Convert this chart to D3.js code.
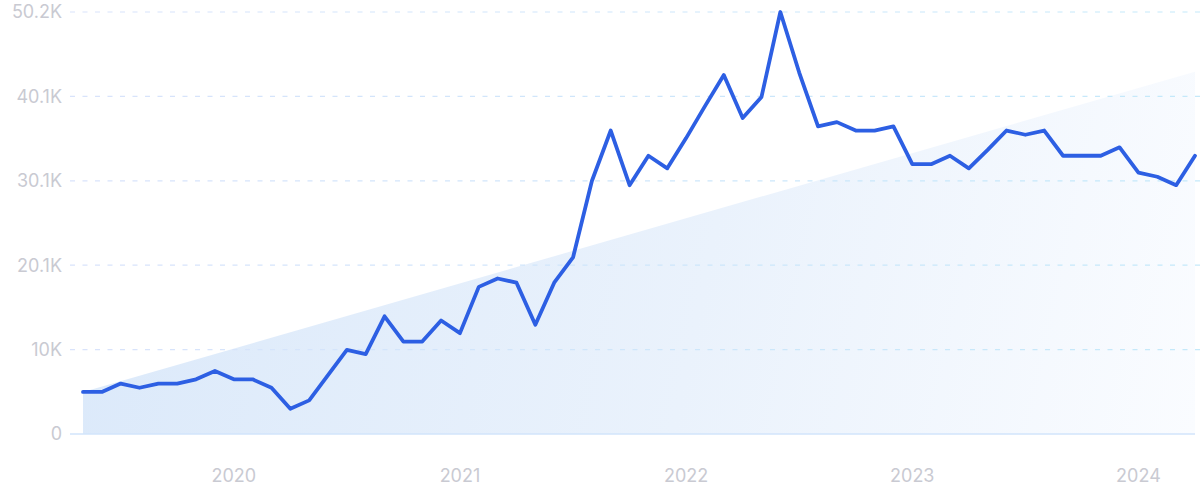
<!DOCTYPE html>
<html>
<head>
<meta charset="utf-8">
<script src="https://cdn.jsdelivr.net/npm/d3@7"></script>
<style>
  html, body { margin: 0; padding: 0; background: #ffffff; }
  svg { display: block; }
  text { font-family: Inter, "Noto Sans", sans-serif; }
</style>
</head>
<body>
<svg id="chart" width="1200" height="499"></svg>
<script>
// ---- data ----
const months = [
  "2019-05","2019-06","2019-07","2019-08","2019-09","2019-10","2019-11","2019-12",
  "2020-01","2020-02","2020-03","2020-04","2020-05","2020-06","2020-07","2020-08","2020-09","2020-10","2020-11","2020-12",
  "2021-01","2021-02","2021-03","2021-04","2021-05","2021-06","2021-07","2021-08","2021-09","2021-10","2021-11","2021-12",
  "2022-01","2022-02","2022-03","2022-04","2022-05","2022-06","2022-07","2022-08","2022-09","2022-10","2022-11","2022-12",
  "2023-01","2023-02","2023-03","2023-04","2023-05","2023-06","2023-07","2023-08","2023-09","2023-10","2023-11","2023-12",
  "2024-01","2024-02","2024-03","2024-04"
];
// search volume, thousands
const volume = [
  5.0, 5.0, 6.0, 5.5, 6.0, 6.0, 6.5, 7.5,
  6.5, 6.5, 5.5, 3.0, 4.0, 7.0, 10.0, 9.5, 14.0, 11.0, 11.0, 13.5,
  12.0, 17.5, 18.5, 18.0, 13.0, 18.0, 21.0, 30.1, 36.1, 29.6, 33.1, 31.6,
  35.2, 39.0, 42.7, 37.6, 40.1, 50.2, 43.0, 36.6, 37.1, 36.1, 36.1, 36.6,
  32.1, 32.1, 33.1, 31.6, 33.8, 36.1, 35.6, 36.1, 33.1, 33.1, 33.1, 34.1,
  31.1, 30.6, 29.6, 33.1
];
// trend line (first month, last month), thousands
const trendMonths = ["2019-05", "2024-04"];
const trendValues = [5.0, 43.1];
// axis ticks
const yTickValues = [0, 10.04, 20.08, 30.12, 40.16, 50.2];
const yTickLabels = ["0", "10K", "20.1K", "30.1K", "40.1K", "50.2K"];
const xTickMonths = ["2020-01", "2021-01", "2022-01", "2023-01", "2024-01"];
const xTickLabels = ["2020", "2021", "2022", "2023", "2024"];

// ---- layout ----
const svg = d3.select("#chart");
const plotLeft = 83, plotRight = 1195, plotTop = 12, plotBottom = 434;

const x = d3.scalePoint().domain(months).range([plotLeft, plotRight]);
const y = d3.scaleLinear().domain([0, 50.2]).range([plotBottom, plotTop]);

const defs = svg.append("defs");
const fillGrad = defs.append("linearGradient")
  .attr("id", "fillGrad")
  .attr("gradientUnits", "userSpaceOnUse")
  .attr("x1", plotLeft).attr("y1", 200).attr("x2", plotRight).attr("y2", 434);
fillGrad.append("stop").attr("offset", "0%").attr("stop-color", "#dbe9fa");
fillGrad.append("stop").attr("offset", "55%").attr("stop-color", "#eaf2fc");
fillGrad.append("stop").attr("offset", "100%").attr("stop-color", "#fafcff");

const gridGrad = defs.append("linearGradient")
  .attr("id", "gridGrad")
  .attr("gradientUnits", "userSpaceOnUse")
  .attr("x1", 70).attr("y1", 0).attr("x2", 1200).attr("y2", 0);
gridGrad.append("stop").attr("offset", "0%").attr("stop-color", "#d9e3fb");
gridGrad.append("stop").attr("offset", "100%").attr("stop-color", "#c4e9fa");

// trend area
const trendData = trendMonths.map((m, i) => ({ m, v: trendValues[i] }));
const area = d3.area()
  .x(d => x(d.m))
  .y0(y(0))
  .y1(d => y(d.v));
svg.append("path")
  .datum(trendData)
  .attr("d", area)
  .attr("fill", "url(#fillGrad)");

// gridlines
svg.append("g")
  .selectAll("line")
  .data(yTickValues.slice(1))
  .join("line")
  .attr("x1", 70).attr("x2", 1200)
  .attr("y1", d => y(d)).attr("y2", d => y(d) + 0.01)
  .attr("stroke", "url(#gridGrad)")
  .attr("stroke-width", 1.2)
  .attr("stroke-dasharray", "5,7.5");

// baseline
svg.append("line")
  .attr("x1", 70).attr("x2", plotRight)
  .attr("y1", y(0)).attr("y2", y(0))
  .attr("stroke", "#d2e4fb")
  .attr("stroke-width", 1.5);

// y labels
svg.append("g")
  .selectAll("text")
  .data(yTickValues)
  .join("text")
  .attr("x", 62)
  .attr("y", d => y(d))
  .attr("dy", "0.36em")
  .attr("text-anchor", "end")
  .attr("font-size", 18)
  .attr("fill", "#c9cad2")
  .text((d, i) => yTickLabels[i]);

// x labels
svg.append("g")
  .selectAll("text")
  .data(xTickMonths)
  .join("text")
  .attr("x", d => x(d))
  .attr("y", 476)
  .attr("dy", "0.36em")
  .attr("text-anchor", "middle")
  .attr("font-size", 18)
  .attr("fill", "#c9cad2")
  .text((d, i) => xTickLabels[i]);

// line
const line = d3.line()
  .x((d, i) => x(months[i]))
  .y(d => y(d));
svg.append("path")
  .datum(volume)
  .attr("d", line)
  .attr("fill", "none")
  .attr("stroke", "#2d5fe3")
  .attr("stroke-width", 3.8)
  .attr("stroke-linejoin", "round")
  .attr("stroke-linecap", "round");
</script>
</body>
</html>
